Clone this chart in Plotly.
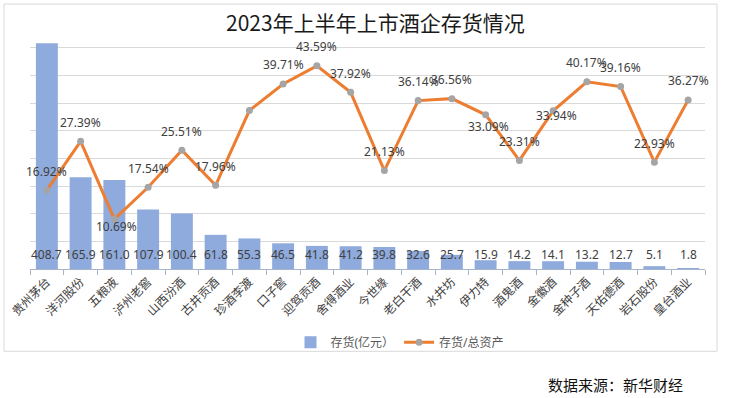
import plotly.graph_objects as go

companies = ["贵州茅台", "洋河股份", "五粮液", "泸州老窖", "山西汾酒", "古井贡酒", "珍酒李渡",
             "口子窖", "迎驾贡酒", "舍得酒业", "今世缘", "老白干酒", "水井坊", "伊力特",
             "酒鬼酒", "金徽酒", "金种子酒", "天佑德酒", "岩石股份", "皇台酒业"]
inventory = [408.7, 165.9, 161.0, 107.9, 100.4, 61.8, 55.3, 46.5, 41.8, 41.2,
             39.8, 32.6, 25.7, 15.9, 14.2, 14.1, 13.2, 12.7, 5.1, 1.8]
ratio = [16.92, 27.39, 10.69, 17.54, 25.51, 17.96, 34.0, 39.71, 43.59, 37.92,
         21.13, 36.14, 36.56, 33.09, 23.31, 33.94, 40.17, 39.16, 22.93, 36.27]
ratio_labeled = [True] * len(companies)
ratio_labeled[companies.index("珍酒李渡")] = False

# label offsets (pixels) for ratio labels that are not placed above the point
label_offsets = {"五粮液": (2, -7), "伊力特": (3, -12), "金徽酒": (3, -5)}

W, H = 736, 398
L, R, T, B = 30, 31, 38, 128.5
plot_w = W - L - R
plot_h = H - T - B

def px_x(px):
    return (px - L) / plot_w

def px_y(py):
    return (H - B - py) / plot_h

FONT = "Noto Sans, Noto Sans CJK SC, sans-serif"
LABEL_COLOR = "#404040"

fig = go.Figure()
fig.add_trace(go.Bar(
    x=companies, y=inventory, name="存货(亿元）",
    marker=dict(color="#8FAADC", line=dict(width=0)),
    yaxis="y", hoverinfo="x+y",
))
fig.add_trace(go.Scatter(
    x=companies, y=ratio, name="存货/总资产", mode="lines+markers",
    line=dict(color="#ED7D31", width=3),
    marker=dict(color="#A5A5A5", size=7, line=dict(width=0)),
    yaxis="y2",
))

annotations = []
for c, v in zip(companies, inventory):
    annotations.append(dict(
        x=c, y=0, xref="x", yref="y", text=f"{v:.1f}", showarrow=False,
        yshift=15, font=dict(size=12, color=LABEL_COLOR, family=FONT),
    ))
for c, v, show in zip(companies, ratio, ratio_labeled):
    if not show:
        continue
    dx, dy = label_offsets.get(c, (0, 19))
    annotations.append(dict(
        x=c, y=v, xref="x", yref="y2", text=f"{v:.2f}%", showarrow=False,
        xshift=dx, yshift=dy, font=dict(size=12, color=LABEL_COLOR, family=FONT),
    ))
annotations.append(dict(
    x=px_x(615), y=px_y(385.5), xref="paper", yref="paper", text="数据来源：新华财经",
    showarrow=False, xanchor="center", yanchor="middle",
    font=dict(size=15, color="#111111", family="Noto Sans CJK SC"),
))

prim_range = 400 * (H - B - T) / 221.5
sec_range = (H - B - T) / 4.67

fig.update_layout(
    width=W, height=H,
    margin=dict(l=L, r=R, t=T, b=B, autoexpand=False),
    paper_bgcolor="white", plot_bgcolor="white",
    font=dict(family=FONT, size=12, color=LABEL_COLOR),
    title=dict(text="2023年上半年上市酒企存货情况", x=0.51, xref="container", xanchor="center",
               y=1 - 24 / H, yref="container", yanchor="middle",
               font=dict(size=21, color="#1a1a1a", family="Noto Sans CJK SC")),
    bargap=0.35,
    showlegend=True,
    legend=dict(orientation="h", x=px_x(400), y=px_y(343), xanchor="center", yanchor="middle",
                font=dict(size=12, color="#595959"), bgcolor="rgba(0,0,0,0)",
                itemwidth=30, traceorder="normal"),
    xaxis=dict(type="category", range=[-0.5, len(companies) - 0.5], tickangle=-45,
               showgrid=False, automargin=False,
               showline=True, linecolor="#A6B4CC", linewidth=1,
               ticks="outside", tickson="boundaries", ticklen=5, tickcolor="#A6B4CC",
               tickfont=dict(size=12, color=LABEL_COLOR, family="Noto Sans CJK SC")),
    yaxis=dict(range=[0, prim_range], dtick=50, tick0=0, showgrid=True, gridcolor="#D9D9D9",
               gridwidth=1, showticklabels=False, zeroline=False, ticks="", automargin=False),
    yaxis2=dict(range=[0, sec_range], overlaying="y", side="right", showgrid=False,
                showticklabels=False, zeroline=False, visible=False, automargin=False),
    annotations=annotations,
    shapes=[dict(type="rect", xref="paper", yref="paper",
                 x0=px_x(4), x1=px_x(717), y0=px_y(352), y1=px_y(4),
                 line=dict(color="#D9D9D9", width=1), fillcolor="rgba(0,0,0,0)", layer="below")],
)

fig.write_html("out.html", config={"displayModeBar": False},
               post_script="document.body.style.margin='0';")
